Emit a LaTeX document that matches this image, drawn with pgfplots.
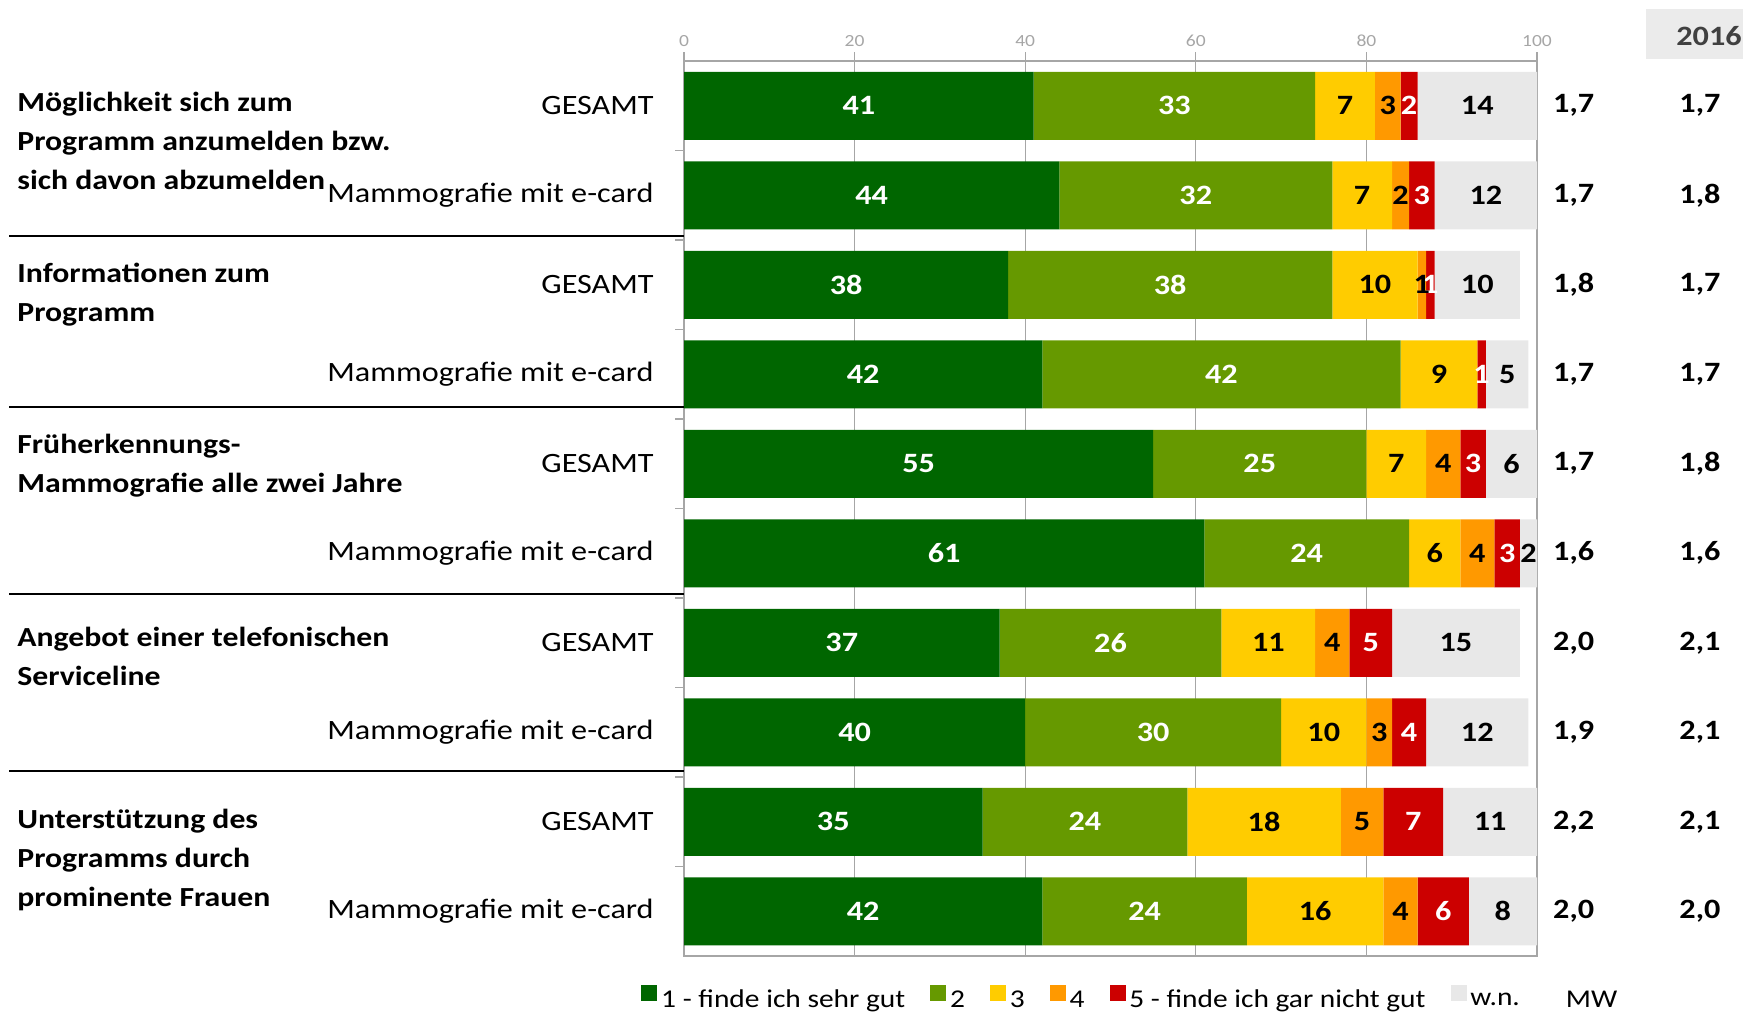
\documentclass[border=0pt]{standalone}
\usepackage{pgfplots}
\pgfplotsset{compat=1.18}
\usepackage{pgfplotstable}
\usepackage{fontspec}
\setmainfont{Carlito}[FakeStretch=1.15]

\definecolor{c1}{HTML}{006600}
\definecolor{c2}{HTML}{669900}
\definecolor{c3}{HTML}{FFCC00}
\definecolor{c4}{HTML}{FF9900}
\definecolor{c5}{HTML}{CC0000}
\definecolor{c6}{HTML}{E8E8E8}
\definecolor{gridgray}{HTML}{A6A6A6}
\definecolor{hdrgray}{HTML}{EBEBEB}
\definecolor{hdrtext}{HTML}{404040}

\newcommand\lab{\fontsize{14}{16}\selectfont}
\newcommand\blab{\bfseries\fontsize{14}{16}\selectfont}
\newcommand\catfont{\bfseries\fontsize{13.8}{16}\selectfont}
\newcommand\tickfont{\fontsize{8.5}{9}\selectfont}

% a..f: 1, 2, 3, 4, 5, w.n. ; mw = MW, y16 = 2016
\pgfplotstableread{
row a  b  c  d e f  mw  y16
1   41 33 7  3 2 14 1,7 1,7
2   44 32 7  2 3 12 1,7 1,8
3   38 38 10 1 1 10 1,8 1,7
4   42 42 9  0 1 5  1,7 1,7
5   55 25 7  4 3 6  1,7 1,8
6   61 24 6  4 3 2  1,6 1,6
7   37 26 11 4 5 15 2,0 2,1
8   40 30 10 3 4 12 1,9 2,1
9   35 24 18 5 7 11 2,2 2,1
10  42 24 16 4 6 8  2,0 2,0
}\datatable

\pgfkeys{/pgf/number format/assume math mode=true}

\begin{document}
\begin{tikzpicture}
\path[use as bounding box] (0,0) rectangle (871.5pt,-506pt);

\begin{axis}[
    at={(342pt,-30.5pt)}, anchor=north west,
    width=426.5pt, height=447.5pt, scale only axis,
    xbar stacked, bar width=34pt,
    xmin=0, xmax=100, ymin=0.5, ymax=10.5, y dir=reverse,
    axis line style={gridgray, line width=0.8pt},
    xtick={0,20,...,100},
    xtick pos=right, xticklabel pos=right,
    xticklabel style={font=\tickfont, text=gridgray, yshift=-1pt},
    xmajorgrids=true,
    major grid style={gridgray, line width=0.6pt},
    x tick style={gridgray, line width=0.6pt},
    tick align=outside, major tick length=4.5pt,
    ytick={1,...,10},
    ytick pos=left,
    yticklabels={GESAMT,Mammografie mit e-card,GESAMT,Mammografie mit e-card,GESAMT,Mammografie mit e-card,GESAMT,Mammografie mit e-card,GESAMT,Mammografie mit e-card},
    yticklabel style={font=\lab, inner sep=0pt, xshift=-10.5pt},
    y tick style={draw=none},
    extra y ticks={1.5,2.5,...,9.5},
    extra y tick labels={},
    extra y tick style={y tick style={draw=gridgray, line width=0.8pt}},
    nodes near coords={\pgfmathparse{\segw>0.5}\ifdim\pgfmathresult pt>0.5pt \pgfmathprintnumber[fixed,precision=0]{\segw}\fi},
    every node near coord/.append style={font=\blab, anchor=center},
    clip=false,
]
\addplot[fill=c1, draw=none, visualization depends on={\thisrow{a} \as \segw},
    every node near coord/.append style={text=white}] table[x=a, y=row]{\datatable};
\addplot[fill=c2, draw=none, visualization depends on={\thisrow{b} \as \segw},
    every node near coord/.append style={text=white}] table[x=b, y=row]{\datatable};
\addplot[fill=c3, draw=none, visualization depends on={\thisrow{c} \as \segw},
    every node near coord/.append style={text=black}] table[x=c, y=row]{\datatable};
\addplot[fill=c4, draw=none, visualization depends on={\thisrow{d} \as \segw},
    every node near coord/.append style={text=black}] table[x=d, y=row]{\datatable};
\addplot[fill=c5, draw=none, visualization depends on={\thisrow{e} \as \segw},
    every node near coord/.append style={text=white}] table[x=e, y=row]{\datatable};
\addplot[fill=c6, draw=none, visualization depends on={\thisrow{f} \as \segw},
    every node near coord/.append style={text=black}] table[x=f, y=row]{\datatable};
\end{axis}

% MW / 2016 columns and legend
\begin{axis}[
    at={(342pt,-30.5pt)}, anchor=north west,
    width=426.5pt, height=447.5pt, scale only axis,
    xmin=0, xmax=100, ymin=0.5, ymax=10.5, y dir=reverse,
    hide axis, clip=false,
    legend style={at={(-0.0504,-0.049)}, anchor=west, draw=none, fill=none,
        inner xsep=0pt, inner ysep=0pt, font=\fontsize{12.8}{14}\selectfont,
        /tikz/every even column/.append style={column sep=10.5pt}},
    legend columns=-1,
]
\addplot[draw=none, mark=none, forget plot, point meta=explicit symbolic,
    nodes near coords={\pgfplotspointmeta},
    every node near coord/.append style={font=\blab, anchor=center}]
    table[x expr=104.3, y=row, meta=mw]{\datatable};
\addplot[draw=none, mark=none, forget plot, point meta=explicit symbolic,
    nodes near coords={\pgfplotspointmeta},
    every node near coord/.append style={font=\blab, anchor=center}]
    table[x expr=119.1, y=row, meta=y16]{\datatable};
\addlegendimage{legend image code/.code={\fill[c1] (0pt,0pt) rectangle (7.5pt,7.5pt);}}
\addlegendentry{1 - finde ich sehr gut}
\addlegendimage{legend image code/.code={\fill[c2] (0pt,0pt) rectangle (7.5pt,7.5pt);}}
\addlegendentry{2}
\addlegendimage{legend image code/.code={\fill[c3] (0pt,0pt) rectangle (7.5pt,7.5pt);}}
\addlegendentry{3}
\addlegendimage{legend image code/.code={\fill[c4] (0pt,0pt) rectangle (7.5pt,7.5pt);}}
\addlegendentry{4}
\addlegendimage{legend image code/.code={\fill[c5] (0pt,0pt) rectangle (7.5pt,7.5pt);}}
\addlegendentry{5 - finde ich gar nicht gut}
\addlegendimage{legend image code/.code={\fill[c6] (0pt,0pt) rectangle (7.5pt,7.5pt);}}
\addlegendentry{w.n.}
\addlegendimage{empty legend}
\addlegendentry{\hspace{8.5pt}MW}
\end{axis}

\begin{scope}[x=0.5pt, y=-0.5pt]
  % group separators
  \foreach \yy in {235.5, 406.5, 593.5, 770.7}
    \draw[black, line width=1pt] (9,\yy) -- (684,\yy);
  % header 2016
  \fill[hdrgray] (1646,9) rectangle (1743,59);
  \node[font=\blab, text=hdrtext] at (1709,36) {2016};
  % category labels
  \begin{scope}[every node/.style={font=\catfont, anchor=base west, inner sep=0pt}]
    \node at (17,111) {Möglichkeit sich zum};
    \node at (17,150) {Programm anzumelden bzw.};
    \node at (17,189) {sich davon abzumelden};
    \node at (17,282) {Informationen zum};
    \node at (17,321) {Programm};
    \node at (17,453.5) {Früherkennungs-};
    \node at (17,492) {Mammografie alle zwei Jahre};
    \node at (17,646) {Angebot einer telefonischen};
    \node at (17,685) {Serviceline};
    \node at (17,828) {Unterstützung des};
    \node at (17,867) {Programms durch};
    \node at (17,906) {prominente Frauen};
  \end{scope}
\end{scope}
\end{tikzpicture}
\end{document}
